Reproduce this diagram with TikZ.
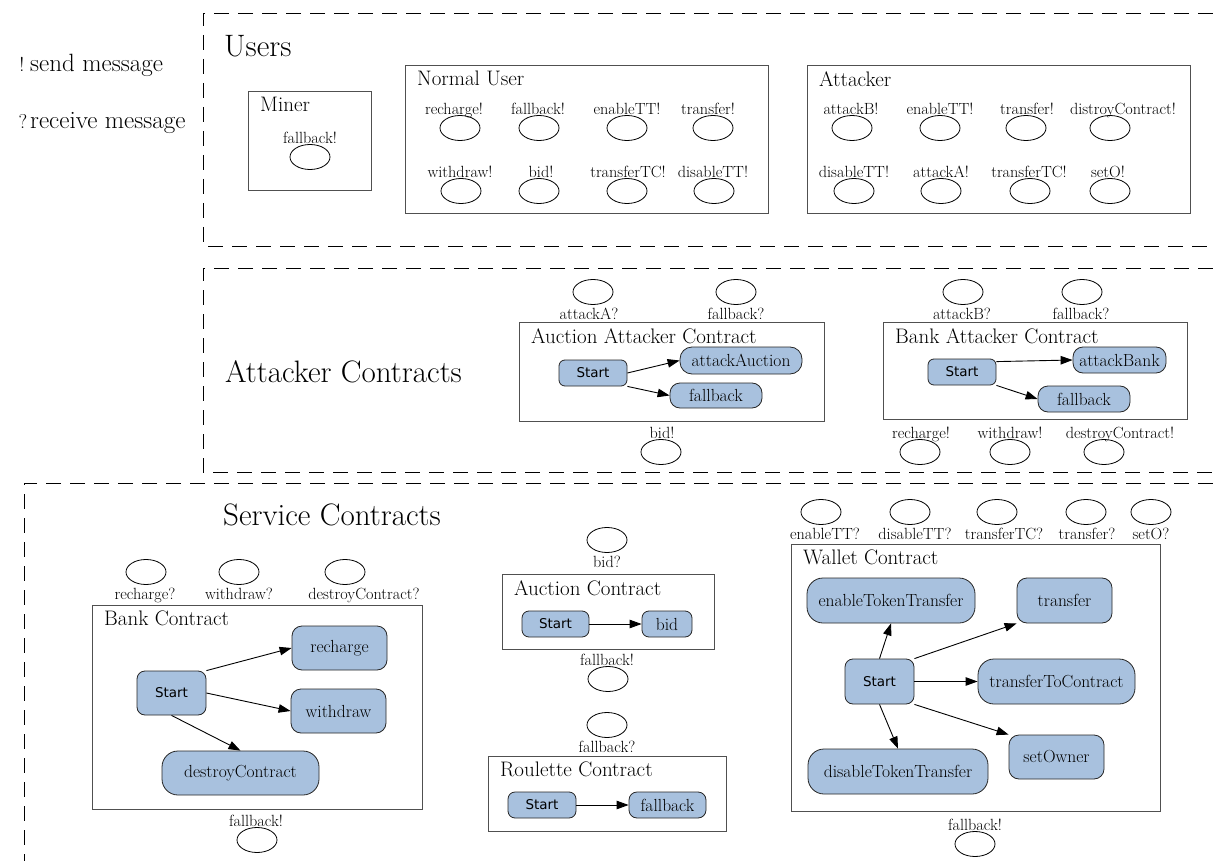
\documentclass[tikz,border=0pt]{standalone}
\usepackage{fontspec}
\newfontfamily\startfont{DejaVu Sans}
\usetikzlibrary{shapes.geometric,arrows.meta,calc}
\definecolor{stblue}{RGB}{168,193,222}
\definecolor{boxgray}{RGB}{80,80,80}
\tikzset{
  dashregion/.style={draw=black, line width=0.9pt, dash pattern=on 15pt off 9pt},
  grpbox/.style={draw=boxgray, line width=1.1pt, inner sep=0pt, anchor=north west},
  msgell/.style={draw=black, ellipse, minimum width=40pt, minimum height=25pt, inner sep=0pt, line width=0.8pt},
  msglbl/.style={font=\fontsize{16.2}{18}\selectfont, inner sep=0pt},
  grptitle/.style={font=\fontsize{21}{24}\selectfont, inner sep=0pt, anchor=north west},
  regtitle/.style={font=\fontsize{31}{35}\selectfont, inner sep=0pt, anchor=base west},
  legend/.style={font=\fontsize{25}{28}\selectfont, inner sep=0pt, anchor=base west},
  legsym/.style={font=\fontsize{20}{23}\selectfont, inner sep=0pt, anchor=base},
  state/.style={draw=black!85, fill=stblue, line width=0.8pt, inner sep=0pt, font=\fontsize{17.5}{20}\selectfont},
  startst/.style={state, font=\startfont\fontsize{13.5}{16}\selectfont},
  arr/.style={-{Triangle[length=12pt,width=8.5pt]}, line width=0.9pt}
}
% box: name, x1, y1, x2, y2, title
\newcommand\grp[6]{%
  \node[grpbox, minimum width={(#4)-(#2)}, minimum height={(#5)-(#3)}] (#1) at (#2,#3) {};
  \node[grptitle] (#1t) at ({#2+12},{#3+6}) {#6};}
% state: style, name, x1, y1, x2, y2, radius, text
\newcommand\stn[8]{%
  \node[#1, rounded corners=#7pt, minimum width={(#5)-(#3)}, minimum height={(#6)-(#4)}] (#2) at ({(#3+#5)/2},{(#4+#6)/2}) {#8};}
% send message: name, x, y, text, label x offset (label above)
\newcommand\smsg[5]{%
  \node[msgell] (#1) at (#2,#3) {};
  \node[msglbl, anchor=base] (#1t) at ([xshift=#5pt, yshift=1pt]#1.north) {#4};}
% receive message: label below
\newcommand\rmsg[5]{%
  \node[msgell] (#1) at (#2,#3) {};
  \node[msglbl, anchor=north] (#1t) at ([xshift=#5pt, yshift=-3pt]#1.south) {#4};}
\begin{document}
\begin{tikzpicture}[x=1pt,y=-1pt]
\useasboundingbox (0,0) rectangle (1213,861);

% legend
\node[legsym] (l1s) at (22,72) {!};
\node[legend] (l1) at (30,72) {send message};
\node[legsym] (l2s) at (23,129) {?};
\node[legend] (l2) at (30,129) {receive message};

% dashed regions
\draw[dashregion] (1213,13) -- (203,13) -- (203,246) -- (1213,246);
\draw[dashregion] (1213,268) -- (203,268) -- (203,472) -- (1213,472);
\draw[dashregion] (1213,483) -- (24,483) -- (24,861);

\node[regtitle] (tusers) at (224,57) {Users};
\node[regtitle] (tattack) at (225,382) {Attacker Contracts};
\node[regtitle] (tservice) at (223,525) {Service Contracts};

% ---------- Users ----------
\grp{miner}{248}{91}{371}{190}{Miner}
\smsg{m1}{310}{157}{fallback!}{0}

\grp{nuser}{405}{65}{768}{213}{Normal User}
\smsg{nu1}{460}{128}{recharge!}{-6}
\smsg{nu2}{539}{128}{fallback!}{-1}
\smsg{nu3}{627}{128}{enableTT!}{0}
\smsg{nu4}{713}{128}{transfer!}{-5}
\smsg{nu5}{461}{191}{withdraw!}{-1}
\smsg{nu6}{539}{191}{bid!}{2}
\smsg{nu7}{627}{191}{transferTC!}{1}
\smsg{nu8}{714}{191}{disableTT!}{-1}

\grp{atk}{807}{65}{1190}{213}{Attacker}
\smsg{at1}{852}{128}{attackB!}{-1}
\smsg{at2}{940}{128}{enableTT!}{0}
\smsg{at3}{1026}{128}{transfer!}{1}
\smsg{at4}{1110}{128}{distroyContract!}{13}
\smsg{at5}{854}{191}{disableTT!}{0}
\smsg{at6}{941}{191}{attackA!}{0}
\smsg{at7}{1030}{191}{transferTC!}{-1}
\smsg{at8}{1110}{191}{setO!}{-2}

% ---------- Attacker contracts ----------
\grp{aac}{519}{322}{824}{421}{Auction Attacker Contract}
\rmsg{aa1}{593}{292}{attackA?}{-4}
\rmsg{aa2}{736}{292}{fallback?}{0}
\smsg{aa3}{661}{452}{bid!}{1}
\stn{startst}{aas}{559}{360}{627}{386}{6}{Start}
\stn{state}{aaa}{680}{347}{802}{374}{12}{attackAuction}
\stn{state}{aaf}{670}{383}{762}{408}{10}{fallback}
\draw[arr] (aas.east) -- (aaa.west);
\draw[arr] (aas.south east) -- (aaf.west);

\grp{bac}{883}{322}{1187}{419}{Bank Attacker Contract}
\rmsg{ba1}{963}{292}{attackB?}{-1}
\rmsg{ba2}{1082}{292}{fallback?}{-1}
\smsg{ba3}{920}{452}{recharge!}{1}
\smsg{ba4}{1010}{452}{withdraw!}{0}
\smsg{ba5}{1104}{452}{destroyContract!}{16}
\stn{startst}{bas}{928}{359}{996}{385}{6}{Start}
\stn{state}{bab}{1073}{347}{1166}{373}{10}{attackBank}
\stn{state}{baf}{1038}{386}{1130}{412}{10}{fallback}
\draw[arr] ([yshift=-3pt]bas.north east) -- (bab.west);
\draw[arr] (bas.south east) -- (baf.west);

% ---------- Service contracts ----------
\grp{bank}{92}{605}{422}{809}{Bank Contract}
\rmsg{bk1}{146}{572}{recharge?}{-1}
\rmsg{bk2}{239}{572}{withdraw?}{0}
\rmsg{bk3}{345}{572}{destroyContract?}{19}
\smsg{bk4}{257}{840}{fallback!}{-1}
\stn{startst}{bs}{137}{671}{206}{715}{8}{Start}
\stn{state}{brc}{292}{626}{387}{670}{10}{recharge}
\stn{state}{bwd}{291}{689}{386}{733}{10}{withdraw}
\stn{state}{bdc}{162}{751}{319}{795}{16}{destroyContract}
\draw[arr] (bs.north east) -- (brc.west);
\draw[arr] (bs.east) -- (bwd.west);
\draw[arr] (bs.south) -- (bdc.north);

\grp{auc}{502}{574}{714}{649}{Auction Contract}
\rmsg{au1}{607}{540}{bid?}{0}
\smsg{au2}{608}{679}{fallback!}{-1}
\stn{startst}{aus}{522}{611}{589}{637}{7}{Start}
\stn{state}{aub}{642}{611}{692}{637}{7}{bid}
\draw[arr] (aus.east) -- (aub.west);

\grp{rou}{488}{756}{726}{831}{Roulette Contract}
\rmsg{ro1}{607}{725}{fallback?}{0}
\stn{startst}{ros}{508}{792}{576}{818}{7}{Start}
\stn{state}{rof}{629}{792}{706}{818}{8}{fallback}
\draw[arr] (ros.east) -- (rof.west);

\grp{wal}{791}{544}{1160}{811}{Wallet Contract}
\rmsg{wa1}{821}{512}{enableTT?}{4}
\rmsg{wa2}{910}{512}{disableTT?}{5}
\rmsg{wa3}{997}{512}{transferTC?}{7}
\rmsg{wa4}{1086}{512}{transfer?}{1}
\rmsg{wa5}{1151}{512}{setO?}{0}
\smsg{wa6}{975}{844}{fallback!}{0}
\stn{state}{wet}{807}{578}{975}{623}{16}{enableTokenTransfer}
\stn{state}{wtr}{1017}{578}{1112}{623}{10}{transfer}
\stn{startst}{ws}{845}{659}{914}{704}{8}{Start}
\stn{state}{wtc}{978}{659}{1135}{704}{16}{transferToContract}
\stn{state}{wso}{1009}{735}{1104}{779}{10}{setOwner}
\stn{state}{wdt}{808}{749}{988}{794}{16}{disableTokenTransfer}
\draw[arr] (ws.north) -- (wet.south);
\draw[arr] (ws.north east) -- (wtr.south west);
\draw[arr] (ws.east) -- (wtc.west);
\draw[arr] (ws.south east) -- (wso.north west);
\draw[arr] (ws.south) -- (wdt.north);
\end{tikzpicture}
\end{document}
